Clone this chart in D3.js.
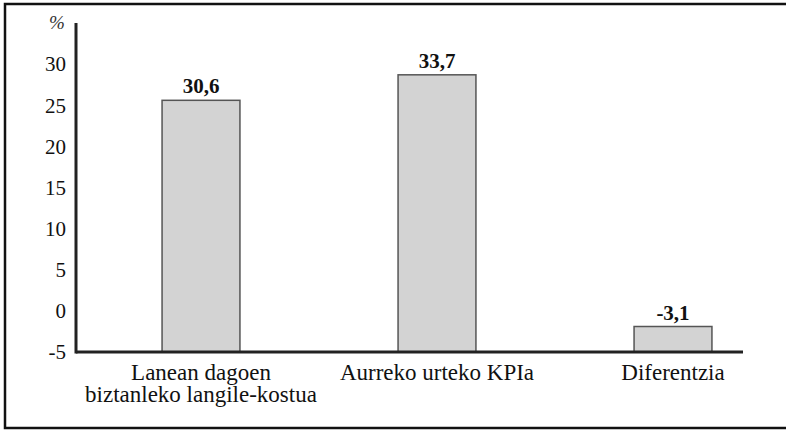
<!DOCTYPE html>
<html>
<head>
<meta charset="utf-8">
<script src="https://cdn.jsdelivr.net/npm/d3@7"></script>
<style>
  body { margin: 0; background: #fff; }
</style>
</head>
<body>
<div id="chart"></div>
<script>
// data
var categories = [["Lanean dagoen", "biztanleko langile-kostua"], ["Aurreko urteko KPIa"], ["Diferentzia"]];
var values = [30.6, 33.7, -3.1];
var valueLabels = ["30,6", "33,7", "-3,1"];
// the axis in the original is labelled 5 below the bar scale
var tickValues = [0, 5, 10, 15, 20, 25, 30, 35];
var tickLabels = ["-5", "0", "5", "10", "15", "20", "25", "30"];

var width = 786, height = 431;
var serif = "'Liberation Serif'";

var svg = d3.select("#chart")
  .append("svg")
  .attr("width", width)
  .attr("height", height);

// outer frame (right side runs off the picture)
svg.append("rect")
  .attr("x", 5)
  .attr("y", 4)
  .attr("width", 800)
  .attr("height", 424)
  .attr("fill", "none")
  .attr("stroke", "#111")
  .attr("stroke-width", 2.5);

var x = d3.scaleBand()
  .domain(d3.range(values.length))
  .range([83, 791])
  .paddingInner(0.67)
  .paddingOuter(0.335);

var y = d3.scaleLinear()
  .domain([0, 40])
  .range([352, 23]);

// tick labels
svg.append("g")
  .selectAll("text")
  .data(tickValues)
  .enter()
  .append("text")
  .attr("x", 66)
  .attr("y", function (d) { return y(d); })
  .attr("dy", "0.35em")
  .attr("text-anchor", "end")
  .style("font-family", serif)
  .style("font-size", "21px")
  .attr("fill", "#111")
  .text(function (d, i) { return tickLabels[i]; });

// % label
svg.append("text")
  .attr("x", 57)
  .attr("y", 29)
  .attr("text-anchor", "middle")
  .style("font-family", serif)
  .style("font-size", "19px")
  .style("font-style", "italic")
  .attr("fill", "#333")
  .text("%");

// bars
svg.append("g")
  .selectAll("rect")
  .data(values)
  .enter()
  .append("rect")
  .attr("x", function (d, i) { return x(i); })
  .attr("y", function (d) { return y(Math.abs(d)); })
  .attr("width", x.bandwidth())
  .attr("height", function (d) { return y(0) - y(Math.abs(d)); })
  .attr("fill", "#d3d3d3")
  .attr("stroke", "#555")
  .attr("stroke-width", 1.5);

// value labels
svg.append("g")
  .selectAll("text")
  .data(values)
  .enter()
  .append("text")
  .attr("x", function (d, i) { return x(i) + x.bandwidth() / 2; })
  .attr("y", function (d) { return y(Math.abs(d)) - 7; })
  .attr("text-anchor", "middle")
  .style("font-family", serif)
  .style("font-size", "21px")
  .style("font-weight", "bold")
  .attr("fill", "#111")
  .text(function (d, i) { return valueLabels[i]; });

// axis lines
svg.append("line")
  .attr("x1", 76).attr("x2", 76)
  .attr("y1", y(40)).attr("y2", y(0) + 1.5)
  .attr("stroke", "#222")
  .attr("stroke-width", 3);

svg.append("line")
  .attr("x1", 76).attr("x2", 743)
  .attr("y1", y(0)).attr("y2", y(0))
  .attr("stroke", "#222")
  .attr("stroke-width", 3);

// category labels
var cat = svg.append("g")
  .selectAll("text")
  .data(categories)
  .enter()
  .append("text")
  .attr("x", function (d, i) { return x(i) + x.bandwidth() / 2; })
  .attr("y", 380)
  .attr("text-anchor", "middle")
  .style("font-family", serif)
  .style("font-size", "23px")
  .attr("fill", "#111");

cat.selectAll("tspan")
  .data(function (d) { return d; })
  .enter()
  .append("tspan")
  .attr("x", function () { return d3.select(this.parentNode).attr("x"); })
  .attr("dy", function (d, i) { return i === 0 ? 0 : 21.5; })
  .text(function (d) { return d; });
</script>
</body>
</html>
